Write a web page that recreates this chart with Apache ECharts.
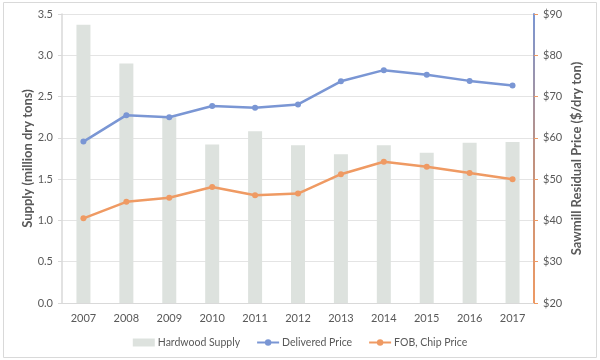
<!DOCTYPE html>
<html><head><meta charset="utf-8">
<script src="https://cdn.jsdelivr.net/npm/echarts@6/dist/echarts.min.js"></script>
<style>html,body{margin:0;padding:0;background:#fff}#c{width:600px;height:360px}</style>
</head><body><div id="c"></div>
<script>
const years = ['2007','2008','2009','2010','2011','2012','2013','2014','2015','2016','2017'];
const hardwoodSupply = [3.37, 2.90, 2.25, 1.92, 2.08, 1.91, 1.80, 1.91, 1.82, 1.94, 1.95];
const deliveredPrice = [59.1, 65.5, 65.0, 67.7, 67.3, 68.1, 73.7, 76.4, 75.3, 73.8, 72.7];
const fobChipPrice = [40.5, 44.5, 45.5, 48.1, 46.1, 46.5, 51.2, 54.2, 53.0, 51.5, 50.0];

const txt = '#595959';
const font = 'Lato';
const chart = echarts.init(document.getElementById('c'));
chart.setOption({
  animation: false,
  textStyle: {fontFamily: font},
  graphic: [{type:'rect', shape:{x:3.5,y:2.5,width:593,height:355}, style:{fill:'none', stroke:'#d9d9d9', lineWidth:1}, silent:true}],
  grid: {left: 62, right: 66, top: 14, bottom: 57},
  legend: {
    bottom: 7, left: 'center', itemGap: 16, itemWidth: 22, itemHeight: 8,
    textStyle: {color: txt, fontSize: 10.5, fontFamily: font, padding: [0, 0, 0, -2]},
    data: [
      {name:'Hardwood Supply', icon:'rect'},
      {name:'Delivered Price'},
      {name:'FOB, Chip Price'}
    ]
  },
  xAxis: {
    type: 'category', data: years,
    axisLine: {lineStyle: {color: '#d9d9d9'}},
    axisTick: {show: false},
    axisLabel: {color: txt, fontSize: 11, margin: 10}
  },
  yAxis: [
    {
      type: 'value', min: 0, max: 3.5, interval: 0.5,
      name: 'Supply (million dry tons)', nameLocation: 'middle', nameGap: 28, nameMoveOverlap: false,
      nameTextStyle: {color: txt, fontSize: 13, fontWeight: 'bold', fontFamily: font},
      axisLine: {show: true, lineStyle: {color: '#d9d9d9', width: 1.5}},
      axisTick: {show: true, length: 4, lineStyle: {color: '#d9d9d9'}},
      axisLabel: {color: txt, fontSize: 11, margin: 9, formatter: v => v.toFixed(1)},
      splitLine: {lineStyle: {color: '#e4e4e4'}}
    },
    {
      type: 'value', min: 20, max: 90, interval: 10, position: 'right',
      name: 'Sawmill Residual Price ($/dry ton)', nameLocation: 'middle', nameGap: 36, nameMoveOverlap: false,
      nameRotate: 90,
      nameTextStyle: {color: txt, fontSize: 13, fontWeight: 'bold', fontFamily: font},
      axisLine: {show: true, lineStyle: {width: 2, color: new echarts.graphic.LinearGradient(0,0,0,1,[{offset:0,color:'#7a96d4'},{offset:0.5,color:'#c0917f'},{offset:1,color:'#ef9a63'}])}},
      axisTick: {show: true, length: 4, lineStyle: {color: '#ef9a63'}},
      axisLabel: {color: txt, fontSize: 11, margin: 9, formatter: v => '$' + v},
      splitLine: {show: false}
    }
  ],
  series: [
    {name:'Hardwood Supply', type:'bar', data: hardwoodSupply, barWidth: 14, itemStyle:{color:'#dde2de'}, yAxisIndex: 0},
    {name:'Delivered Price', type:'line', data: deliveredPrice, yAxisIndex: 1, symbol:'circle', symbolSize: 6,
     lineStyle:{color:'#7a96d4', width: 2.5}, itemStyle:{color:'#7a96d4'}},
    {name:'FOB, Chip Price', type:'line', data: fobChipPrice, yAxisIndex: 1, symbol:'circle', symbolSize: 6,
     lineStyle:{color:'#ef9a63', width: 2.5}, itemStyle:{color:'#ef9a63'}}
  ]
});
</script></body></html>
